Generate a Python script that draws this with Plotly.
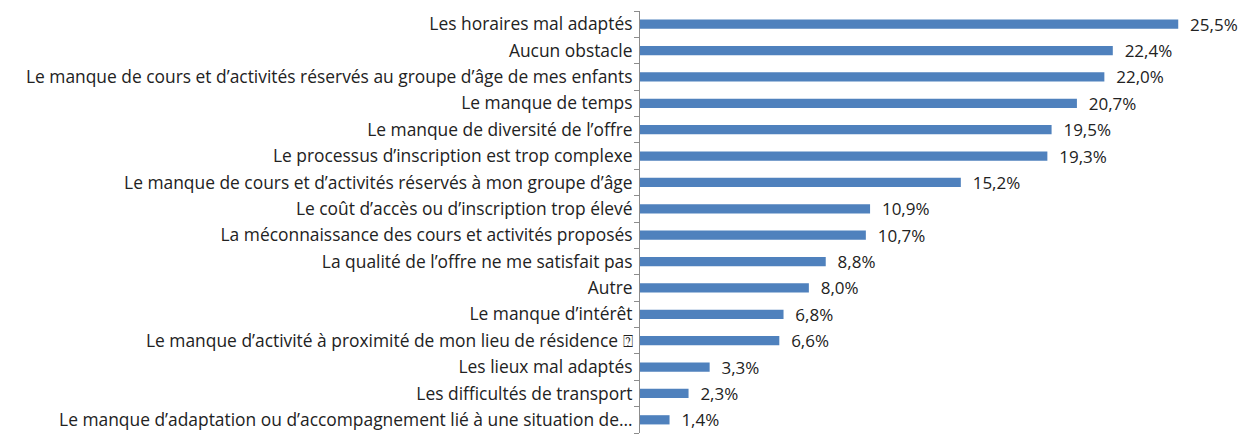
import plotly.graph_objects as go

categories = [
    "Les horaires mal adaptés",
    "Aucun obstacle",
    "Le manque de cours et d’activités réservés au groupe d’âge de mes enfants",
    "Le manque de temps",
    "Le manque de diversité de l’offre",
    "Le processus d’inscription est trop complexe",
    "Le manque de cours et d’activités réservés à mon groupe d’âge",
    "Le coût d’accès ou d’inscription trop élevé",
    "La méconnaissance des cours et activités proposés",
    "La qualité de l’offre ne me satisfait pas",
    "Autre",
    "Le manque d’intérêt",
    "Le manque d’activité à proximité de mon lieu de résidence \u2370",
    "Les lieux mal adaptés",
    "Les difficultés de transport",
    "Le manque d’adaptation ou d’accompagnement lié à une situation de…",
]
values = [25.5, 22.4, 22.0, 20.7, 19.5, 19.3, 15.2, 10.9, 10.7, 8.8, 8.0, 6.8, 6.6, 3.3, 2.3, 1.4]
value_labels = [f"{v:.1f}%".replace(".", ",") for v in values]

FONT = "Open Sans"

fig = go.Figure()
fig.add_trace(go.Bar(
    y=categories,
    x=values,
    orientation="h",
    marker=dict(color="#4F81BD", line=dict(width=0)),
    text=value_labels,
    texttemplate="  %{text}",
    textposition="outside",
    constraintext="none",
    textfont=dict(family=FONT, size=17, color="#222222"),
    cliponaxis=False,
    hoverinfo="skip",
))

# the page body adds an 8px offset, so the figure is 8px smaller and margins shifted
fig.update_layout(
    width=1242,
    height=426,
    margin=dict(l=632, r=0, t=3, b=1),
    paper_bgcolor="white",
    plot_bgcolor="white",
    bargap=0.65,
    showlegend=False,
    font=dict(family=FONT, size=17.4, color="#222222"),
)
fig.update_xaxes(
    range=[0, 28.9],
    visible=False,
    showgrid=False,
    zeroline=False,
    automargin=False,
)
fig.update_yaxes(
    categoryorder="array",
    categoryarray=categories[::-1],
    autorange=False,
    range=[-0.5, len(categories) - 0.5],
    showline=True,
    linecolor="#8c8c8c",
    linewidth=1,
    ticks="outside",
    tickson="boundaries",
    ticklen=5,
    tickcolor="#8c8c8c",
    showgrid=False,
    automargin=False,
    ticklabelstandoff=3,
    tickfont=dict(family=FONT, size=17.4, color="#222222"),
)

fig.write_html("out.html")
